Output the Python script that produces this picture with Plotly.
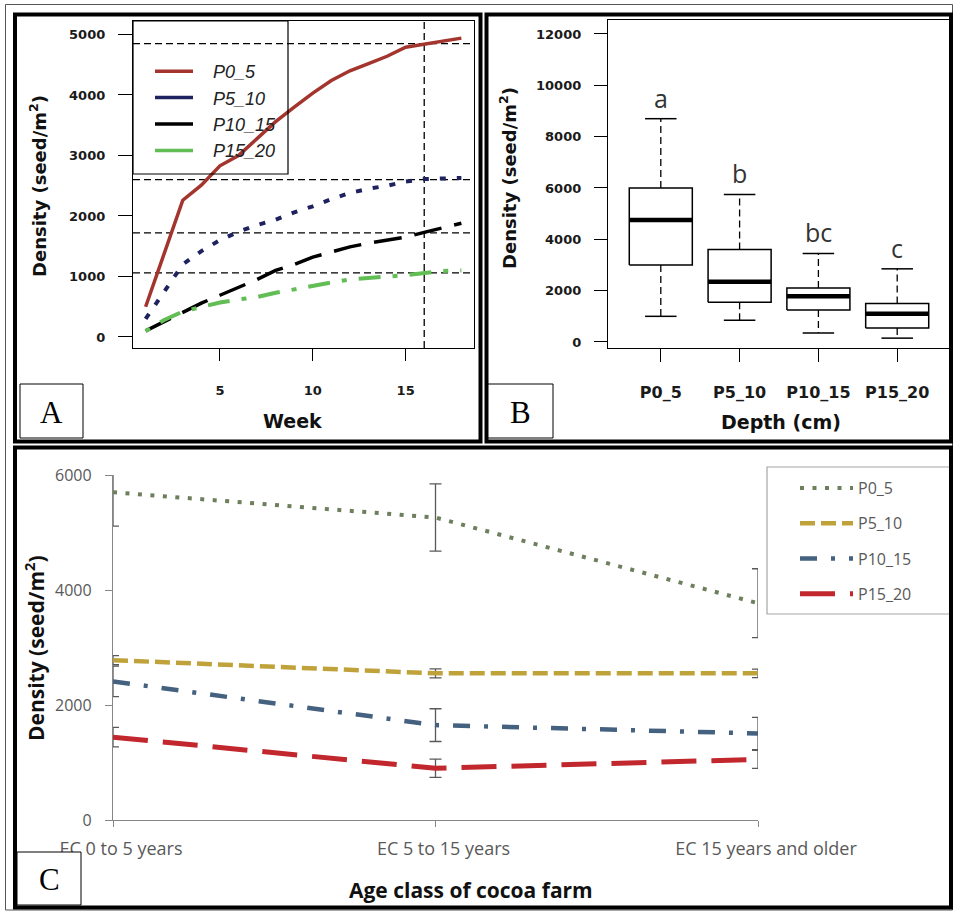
import plotly.graph_objects as go

W, H = 953, 911


def px(x):
    return x / W


def py(y):
    return 1 - y / H


# ---------------- Panel A data ----------------
weeks = list(range(1, 19))
a_p0_5 = [500, 1380, 2260, 2510, 2830, 3000, 3280, 3560, 3800, 4030, 4240, 4400, 4520, 4640, 4790, 4840, 4890, 4940]
a_p5_10 = [300, 750, 1200, 1420, 1600, 1740, 1850, 1940, 2060, 2160, 2280, 2380, 2450, 2500, 2570, 2610, 2620, 2630]
a_p10_15 = [100, 250, 400, 560, 690, 820, 950, 1100, 1200, 1320, 1410, 1490, 1550, 1600, 1650, 1730, 1810, 1880]
a_p15_20 = [100, 280, 420, 500, 570, 620, 660, 730, 790, 850, 900, 950, 980, 1000, 1020, 1050, 1090, 1100]
a_names = ["P0_5", "P5_10", "P10_15", "P15_20"]
a_ref_levels = [4850, 2600, 1720, 1060]
a_ref_week = 16
a_xticks = [5, 10, 15]
a_yticks = [0, 1000, 2000, 3000, 4000, 5000]

# ---------------- Panel B data ----------------
b_cats = ["P0_5", "P5_10", "P10_15", "P15_20"]
b_low = [1000, 850, 350, 150]
b_q1 = [3000, 1550, 1250, 550]
b_med = [4750, 2350, 1780, 1100]
b_q3 = [6000, 3600, 2100, 1500]
b_high = [8700, 5750, 3450, 2850]
b_letters = ["a", "b", "bc", "c"]
b_yticks = [0, 2000, 4000, 6000, 8000, 10000, 12000]

# ---------------- Panel C data ----------------
c_cats = ["EC 0 to 5 years", "EC 5 to 15 years", "EC 15 years and older"]
c_names = ["P0_5", "P5_10", "P10_15", "P15_20"]
c_p0_5 = [5700, 5260, 3770]
c_p5_10 = [2780, 2550, 2550]
c_p10_15 = [2410, 1650, 1505]
c_p15_20 = [1440, 900, 1055]
c_p0_5_err = [590, 585, 600]
c_p5_10_err = [80, 78, 75]
c_p10_15_err = [265, 285, 280]
c_p15_20_err = [170, 157, 156]
c_yticks = [0, 2000, 4000, 6000]

# ---------------- styles ----------------
a_colors = ["#A3342E", "#1E2360", "#000000", "#62BD55"]
a_dash = ["solid", "6px,11px", "28px,13px", "5px,12px,22px,12px"]
a_width = [3.5, 4, 3.5, 4]
c_colors = ["#6E7F5E", "#BFA33A", "#44617F", "#C1272D"]
c_dash = ["4px,8.5px", "15px,6px", "17px,14px,4px,14px", "35px,15px"]
c_width = [4, 4.5, 4.5, 5]

fig = go.Figure()

# ----- Panel A traces -----
for name, ys, col, dsh, lw in zip(a_names, [a_p0_5, a_p5_10, a_p10_15, a_p15_20], a_colors, a_dash, a_width):
    fig.add_trace(go.Scatter(x=weeks, y=ys, mode="lines", name=name,
                             line=dict(color=col, width=lw, dash=dsh),
                             xaxis="x", yaxis="y", showlegend=False, hoverinfo="skip"))
# legend entries for A (solid samples as in the original)
for name, col in zip(a_names, a_colors):
    fig.add_trace(go.Scatter(x=[None], y=[None], mode="lines", name="\u00a0\u00a0\u00a0" + name,
                             line=dict(color=col, width=3.5), xaxis="x", yaxis="y",
                             legend="legend", showlegend=True))

# ----- Panel B traces (boxplot drawn from the summary statistics) -----
box_x, box_y, med_x, med_y, wh_x, wh_y, cap_x, cap_y = [], [], [], [], [], [], [], []
for i in range(len(b_cats)):
    xi = i + 1
    box_x += [xi - 0.4, xi + 0.4, xi + 0.4, xi - 0.4, xi - 0.4, None]
    box_y += [b_q1[i], b_q1[i], b_q3[i], b_q3[i], b_q1[i], None]
    med_x += [xi - 0.4, xi + 0.4, None]
    med_y += [b_med[i], b_med[i], None]
    wh_x += [xi, xi, None, xi, xi, None]
    wh_y += [b_q3[i], b_high[i], None, b_q1[i], b_low[i], None]
    cap_x += [xi - 0.2, xi + 0.2, None, xi - 0.2, xi + 0.2, None]
    cap_y += [b_high[i], b_high[i], None, b_low[i], b_low[i], None]

fig.add_trace(go.Scatter(x=wh_x, y=wh_y, mode="lines", line=dict(color="black", width=1.3, dash="7px,4px"),
                         xaxis="x2", yaxis="y2", showlegend=False, hoverinfo="skip"))
fig.add_trace(go.Scatter(x=cap_x, y=cap_y, mode="lines", line=dict(color="black", width=1.5),
                         xaxis="x2", yaxis="y2", showlegend=False, hoverinfo="skip"))
fig.add_trace(go.Scatter(x=box_x, y=box_y, mode="lines", line=dict(color="black", width=1.5),
                         xaxis="x2", yaxis="y2", showlegend=False, hoverinfo="skip"))
fig.add_trace(go.Scatter(x=med_x, y=med_y, mode="lines", line=dict(color="black", width=4.5),
                         xaxis="x2", yaxis="y2", showlegend=False, hoverinfo="skip"))

# ----- Panel C traces -----
for name, ys, errs, col, dsh, lw in zip(c_names, [c_p0_5, c_p5_10, c_p10_15, c_p15_20],
                                        [c_p0_5_err, c_p5_10_err, c_p10_15_err, c_p15_20_err],
                                        c_colors, c_dash, c_width):
    fig.add_trace(go.Scatter(x=c_cats, y=ys, mode="lines", name=name,
                             line=dict(color=col, width=lw, dash=dsh),
                             error_y=dict(type="data", array=errs, color="#595959", thickness=1.3, width=6),
                             xaxis="x3", yaxis="y3", legend="legend2", legendgroup="c_" + name,
                             showlegend=True))

# ---------------- axes ----------------
ab_tick = dict(family="DejaVu Sans", size=13, color="#1a1a1a", weight="bold")
common_ab = dict(showgrid=False, zeroline=False, showline=True, mirror=True, linecolor="black",
                 linewidth=1.3, ticks="outside", tickcolor="black", tickwidth=1.3)

fig.update_layout(
    xaxis=dict(domain=[px(133), px(474)], range=[0.32, 18.68], tickvals=a_xticks, ticklen=12,
               ticklabelstandoff=18, anchor="y", tickfont=ab_tick, **common_ab),
    yaxis=dict(domain=[py(348), py(21)], range=[-182, 5223], tickvals=a_yticks, ticklen=14,
               tickformat="d", ticklabelstandoff=10, anchor="x", tickfont=ab_tick, **common_ab),
    xaxis2=dict(domain=[px(608), px(950)], range=[0.33, 4.67], tickvals=[1, 2, 3, 4], ticktext=b_cats,
                ticklen=13, ticklabelstandoff=17, anchor="y2",
                tickfont=dict(family="DejaVu Sans", size=16, color="#1a1a1a", weight="bold"), **common_ab),
    yaxis2=dict(domain=[py(348), py(20)], range=[-234, 12545], tickvals=b_yticks, ticklen=13,
                tickformat="d", ticklabelstandoff=10, anchor="x2", tickfont=ab_tick, **common_ab),
    xaxis3=dict(domain=[px(113), px(758)], type="category", range=[0, 2], showgrid=False, zeroline=False,
                showline=True, linecolor="#868686", linewidth=1.3, ticks="outside", ticklen=6,
                tickcolor="#868686", tickfont=dict(family="Open Sans", size=18, color="#595959"),
                ticklabelshift=8, ticklabelstandoff=6, anchor="y3"),
    yaxis3=dict(domain=[py(820), py(475)], range=[0, 6000], tickvals=c_yticks, tickformat="d", showgrid=False,
                zeroline=False, showline=True, linecolor="#868686", linewidth=1.3, ticks="outside",
                ticklen=7, tickcolor="#868686", tickfont=dict(family="Open Sans", size=16, color="#595959"),
                ticklabelstandoff=10, anchor="x3"),
)

# ---------------- legends ----------------
fig.update_layout(
    showlegend=True,
    legend=dict(x=px(150), y=py(53), xanchor="left", yanchor="top", bgcolor="rgba(0,0,0,0)",
                borderwidth=0, itemwidth=38, tracegroupgap=0,
                font=dict(family="Liberation Sans", size=18, style="italic", color="#222222")),
    legend2=dict(x=px(795), y=py(471), xanchor="left", yanchor="top", bgcolor="rgba(0,0,0,0)",
                 borderwidth=0, itemwidth=53, tracegroupgap=11.5,
                 font=dict(family="Open Sans", size=16, color="#595959")),
)

# ---------------- shapes ----------------
shapes = []
for lv in a_ref_levels:
    shapes.append(dict(type="line", xref="x domain", yref="y", x0=0, x1=1, y0=lv, y1=lv, layer="below",
                       line=dict(color="black", width=1.3, dash="7px,4px")))
shapes.append(dict(type="line", xref="x", yref="y domain", x0=a_ref_week, x1=a_ref_week, y0=0, y1=1,
                   layer="below", line=dict(color="black", width=1.3, dash="7px,4px")))


def rect(x0, y0, x1, y1, color="black", width=1, fill=None, layer="above"):
    d = dict(type="rect", xref="paper", yref="paper", x0=px(x0), x1=px(x1), y0=py(y1), y1=py(y0),
             line=dict(color=color, width=width), layer=layer)
    if fill:
        d["fillcolor"] = fill
    return d


# legend boxes
shapes.append(rect(133, 21, 288, 174, "black", 1.2))
shapes.append(rect(767, 467, 952, 614, "#A6A6A6", 1.2))
# outer thin border and thick panel frames
shapes.append(rect(5.5, 4.5, 952.5, 910, "#555555", 1))
shapes.append(rect(15, 14.5, 480.5, 441.5, "black", 4))
shapes.append(rect(486.5, 14.5, 951, 441.5, "black", 4))
shapes.append(rect(15, 447.5, 951, 907.5, "black", 4))
# panel label boxes
shapes.append(rect(20, 384, 83, 438, "black", 1, "white"))
shapes.append(rect(488, 384, 553, 438, "black", 1, "white"))
shapes.append(rect(17, 852, 81, 905, "black", 1, "white"))
fig.update_layout(shapes=shapes)

# ---------------- annotations ----------------
ann = []
title_ab = dict(family="DejaVu Sans", size=18, color="#111111", weight="bold")
ann.append(dict(text="Density (seed/m<sup>2</sup>)", x=px(38), y=py(186), textangle=-90, font=title_ab))
ann.append(dict(text="Week", x=px(292), y=py(421),
                font=dict(family="DejaVu Sans", size=19, color="#111111", weight="bold")))
ann.append(dict(text="Density (seed/m<sup>2</sup>)", x=px(508), y=py(178), textangle=-90, font=title_ab))
ann.append(dict(text="Depth (cm)", x=px(781), y=py(422),
                font=dict(family="DejaVu Sans", size=19, color="#111111", weight="bold")))
ann.append(dict(text="Density (seed/m<sup>2</sup>)", x=px(34), y=py(648), textangle=-90,
                font=dict(family="Open Sans", size=21, color="#111111", weight="bold")))
ann.append(dict(text="Age class of cocoa farm", x=px(471), y=py(890),
                font=dict(family="Open Sans", size=21, color="#111111", weight="bold")))
for lbl, (cx, cy) in zip(["A", "B", "C"], [(51.5, 412), (520.5, 412), (49, 879)]):
    ann.append(dict(text=lbl, x=px(cx), y=py(cy), font=dict(family="Liberation Serif", size=31, color="black")))
for a in ann:
    a.update(xref="paper", yref="paper", showarrow=False, xanchor="center", yanchor="middle")
# significance letters above the whiskers in B
for i, letter in enumerate(b_letters):
    ann.append(dict(text=letter, x=i + 1, y=b_high[i], xref="x2", yref="y2", showarrow=False,
                    xanchor="center", yanchor="middle", yshift=21,
                    font=dict(family="Open Sans", size=25, color="#333333")))
fig.update_layout(annotations=ann)

fig.update_layout(width=W, height=H, margin=dict(l=0, r=0, t=0, b=0, autoexpand=False),
                  paper_bgcolor="white", plot_bgcolor="white")

fig.write_html("out.html", config={"displayModeBar": False},
               post_script="document.body.style.margin='0px';")
